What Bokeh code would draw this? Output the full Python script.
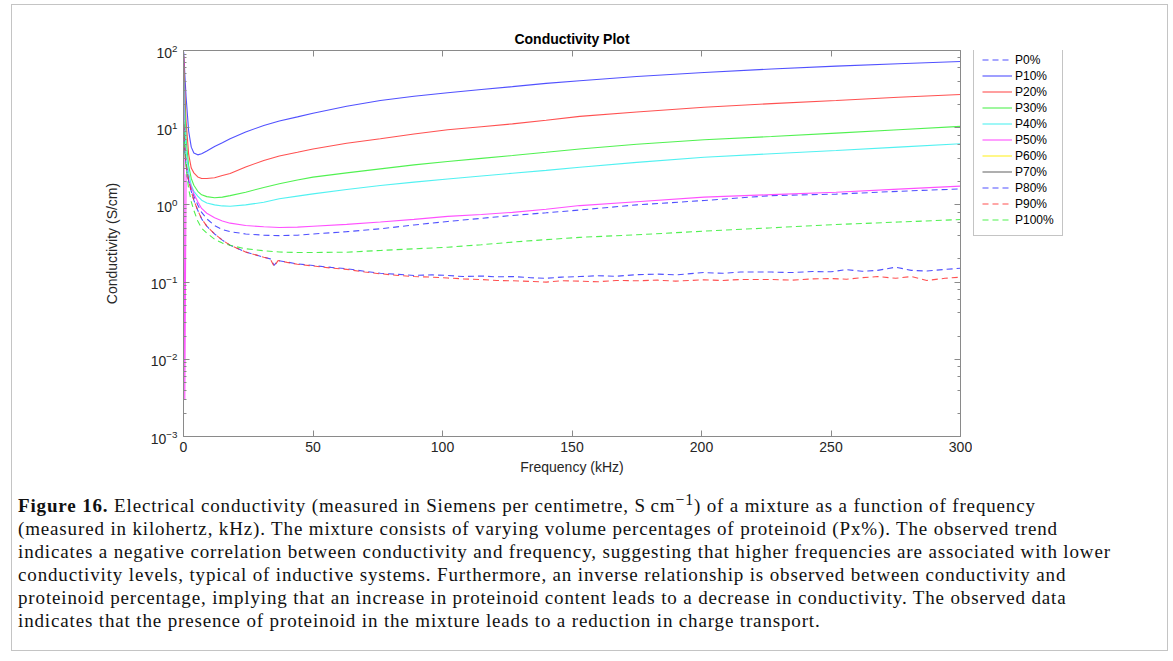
from bokeh.plotting import figure
from bokeh.models import Range1d, LinearAxis, LogAxis, Legend, LegendItem, Div, CustomJSTickFormatter
from bokeh.layouts import column, row
from bokeh.embed import file_html
from bokeh.resources import INLINE

# ---------------- data ----------------
freq = [0.1, 0.5, 1, 2, 3, 4, 5.5, 7, 9, 12, 15, 18, 24, 31, 37, 44, 50, 63, 76, 89,
        102, 115, 127, 140, 153, 175, 201, 227, 252, 276, 300]

p0 = [15, 6, 3.5, 2.1, 1.6, 1.3, 1.0, 0.8, 0.66, 0.54, 0.48, 0.45, 0.42, 0.405, 0.40, 0.405,
      0.42, 0.45, 0.49, 0.55, 0.61, 0.67, 0.73, 0.79, 0.86, 1.0, 1.14, 1.32, 1.38, 1.5, 1.61]
p10 = [95, 50, 25, 9, 5.6, 4.7, 4.45, 4.6, 5.0, 5.7, 6.4, 7.2, 8.8, 10.7, 12.2, 13.8, 15.4,
       19, 22.5, 25.5, 28.3, 31.2, 34, 37.5, 40.5, 46, 52, 57.5, 62.7, 67.5, 72]
p20 = [85, 30, 12, 4.5, 3.0, 2.6, 2.3, 2.2, 2.2, 2.25, 2.4, 2.55, 3.1, 3.76, 4.3, 4.8, 5.3,
       6.3, 7.2, 8.3, 9.4, 10.3, 11.2, 12.5, 14.0, 16, 18.4, 20.5, 22.5, 24.8, 26.9]
p30 = [65, 20, 7, 3.2, 2.2, 1.8, 1.5, 1.35, 1.28, 1.24, 1.26, 1.32, 1.46, 1.68, 1.88, 2.1, 2.29,
       2.6, 2.93, 3.3, 3.65, 4.0, 4.36, 4.8, 5.3, 6.1, 6.97, 7.7, 8.5, 9.4, 10.4]
p40 = [40, 12, 5, 2.6, 1.8, 1.5, 1.3, 1.15, 1.06, 1.0, 0.97, 0.96, 1.0, 1.08, 1.2, 1.3, 1.39,
       1.58, 1.78, 1.97, 2.17, 2.37, 2.57, 2.8, 3.07, 3.55, 4.15, 4.6, 5.07, 5.6, 6.2]
p50 = [70, 0.003, 2.5, 2.1, 1.7, 1.4, 1.1, 0.9, 0.78, 0.68, 0.62, 0.58, 0.54, 0.52, 0.51, 0.515,
       0.53, 0.56, 0.60, 0.65, 0.71, 0.75, 0.80, 0.88, 0.98, 1.1, 1.26, 1.36, 1.46, 1.6, 1.75]
p100 = [12, 5, 3.0, 1.6, 1.1, 0.85, 0.62, 0.5, 0.43, 0.36, 0.32, 0.30, 0.27, 0.255, 0.245, 0.242,
        0.242, 0.244, 0.257, 0.27, 0.283, 0.305, 0.33, 0.355, 0.38, 0.41, 0.457, 0.505, 0.557, 0.60, 0.646]

freq_noisy = [0.1, 0.5, 1, 2, 3, 4, 5.5, 7, 9, 12, 15, 18, 24, 31, 33.5, 35, 36.5, 40, 44, 50,
              57, 63, 70, 76, 83, 89, 96, 102, 108, 115, 121, 127, 134, 140, 146, 153, 160, 167,
              175, 183, 190, 201, 208, 215, 227, 235, 243, 250, 256, 262, 268, 275, 281, 287, 294, 300]
p80 = [10, 5, 3.2, 2.0, 1.5, 1.15, 0.85, 0.66, 0.53, 0.42, 0.35, 0.30, 0.245, 0.21, 0.20, 0.165,
       0.19, 0.182, 0.172, 0.164, 0.155, 0.149, 0.138, 0.130, 0.126, 0.122, 0.124, 0.122, 0.118,
       0.12, 0.117, 0.118, 0.114, 0.112, 0.116, 0.118, 0.121, 0.119, 0.125, 0.127, 0.124, 0.133,
       0.13, 0.135, 0.135, 0.133, 0.137, 0.136, 0.145, 0.138, 0.142, 0.156, 0.142, 0.139, 0.146, 0.151]
p90 = [11, 5.5, 3.4, 2.05, 1.5, 1.15, 0.85, 0.66, 0.53, 0.42, 0.35, 0.30, 0.245, 0.21, 0.20, 0.16,
       0.19, 0.18, 0.17, 0.162, 0.152, 0.146, 0.135, 0.128, 0.122, 0.118, 0.116, 0.113, 0.11,
       0.108, 0.105, 0.104, 0.102, 0.100, 0.104, 0.103, 0.101, 0.105, 0.104, 0.106, 0.103, 0.107,
       0.105, 0.108, 0.108, 0.106, 0.110, 0.111, 0.109, 0.114, 0.118, 0.112, 0.118, 0.105, 0.112, 0.116]

labels = ["P0%", "P10%", "P20%", "P30%", "P40%", "P50%", "P60%", "P70%", "P80%", "P90%", "P100%"]

caption_lines = [
    "<b>Figure 16.</b> Electrical conductivity (measured in Siemens per centimetre, S\u2009cm<sup>\u22121</sup>) of a mixture as a function of frequency",
    "(measured in kilohertz, kHz). The mixture consists of varying volume percentages of proteinoid (Px%). The observed trend",
    "indicates a negative correlation between conductivity and frequency, suggesting that higher frequencies are associated with lower",
    "conductivity levels, typical of inductive systems. Furthermore, an inverse relationship is observed between conductivity and",
    "proteinoid percentage, implying that an increase in proteinoid content leads to a decrease in conductivity. The observed data",
    "indicates that the presence of proteinoid in the mixture leads to a reduction in charge transport.",
]

# ---------------- main figure ----------------
FONT = "Liberation Sans"
AX = "#8a8a8a"
TXT = "#262626"

p = figure(frame_width=777, frame_height=386, x_range=Range1d(0, 300), y_range=Range1d(1e-3, 1e2),
           y_axis_type="log", output_backend="svg", toolbar_location=None,
           min_border_left=171, min_border_top=45, min_border_bottom=50, min_border_right=12,
           title="Conductivity Plot", background_fill_color="white", border_fill_color="white",
           outline_line_color=None)

p.title.align = "center"
p.title.text_font = FONT
p.title.text_font_size = "14px"
p.title.text_font_style = "bold"
p.title.text_color = "black"
p.title.standoff = 8

p.xgrid.visible = False
p.ygrid.visible = False

for ax in (p.xaxis[0], p.yaxis[0]):
    ax.axis_line_color = AX
    ax.major_tick_line_color = AX
    ax.minor_tick_line_color = AX
    ax.major_tick_in = 6
    ax.major_tick_out = 0
    ax.minor_tick_in = 3
    ax.minor_tick_out = 0
    ax.major_label_text_font = FONT
    ax.major_label_text_font_size = "14px"
    ax.major_label_text_color = TXT
    ax.axis_label_text_font = FONT
    ax.axis_label_text_font_size = "14px"
    ax.axis_label_text_font_style = "normal"
    ax.axis_label_text_color = TXT

p.xaxis[0].minor_tick_line_color = None
p.xaxis[0].ticker = [0, 50, 100, 150, 200, 250, 300]
p.xaxis[0].axis_label = "Frequency (kHz)"
p.xaxis[0].major_label_standoff = 5
p.xaxis[0].axis_label_standoff = 4
p.yaxis[0].axis_label = "Conductivity (S/cm)"
p.yaxis[0].major_label_standoff = 6
p.yaxis[0].axis_label_standoff = 28

top = LinearAxis(formatter=CustomJSTickFormatter(code="return ''"), axis_line_color=AX,
                 major_tick_line_color=AX, major_tick_in=6, major_tick_out=0,
                 minor_tick_line_color=None, major_label_standoff=0)
top.ticker = [0, 50, 100, 150, 200, 250, 300]
p.add_layout(top, "above")
right = LogAxis(formatter=CustomJSTickFormatter(code="return ''"), axis_line_color=AX,
                major_tick_line_color=AX, minor_tick_line_color=AX, major_tick_in=6,
                major_tick_out=0, minor_tick_in=3, minor_tick_out=0, major_label_standoff=0)
p.add_layout(right, "right")

DASH = "6 4"
specs = [
    (freq, p0, "#3333ff", DASH),
    (freq, p10, "#3333ff", "solid"),
    (freq, p20, "#ff3333", "solid"),
    (freq, p30, "#33ee33", "solid"),
    (freq, p40, "#33eeee", "solid"),
    (freq, p50, "#ff33ff", "solid"),
    ([], [], "#ffee00", "solid"),
    ([], [], "#555555", "solid"),
    (freq_noisy, p80, "#3333ff", DASH),
    (freq_noisy, p90, "#ff3333", DASH),
    (freq, p100, "#33ee33", DASH),
]

for xs, ys, col, dash in specs:
    if xs:
        p.line(xs, ys, line_color=col, line_width=1.1, line_dash=dash, line_alpha=0.85)

# ---------------- legend (own small figure, to the right of the axes) ----------------
pl = figure(width=180, height=481, x_range=Range1d(0, 1), y_range=Range1d(-10, -9),
            output_backend="svg", toolbar_location=None, x_axis_location=None,
            y_axis_location=None, min_border=0, outline_line_color=None,
            background_fill_color="white", border_fill_color="white")
pl.xgrid.visible = False
pl.ygrid.visible = False

items = []
for (xs, ys, col, dash), lab in zip(specs, labels):
    r = pl.line(xs if xs else [5], ys if ys else [5], line_color=col, line_width=1.1,
                line_dash=dash, line_alpha=0.85)
    items.append(LegendItem(label=lab, renderers=[r]))

legend = Legend(items=items, location=(1, 200))
legend.label_text_font = FONT
legend.label_text_font_size = "12px"
legend.label_text_color = "black"
legend.label_height = 15
legend.glyph_height = 15
legend.glyph_width = 30
legend.label_standoff = 3
legend.spacing = 1
legend.padding = 8
legend.margin = 0
legend.border_line_color = "#8a8a8a"
legend.border_line_width = 1
legend.background_fill_color = "white"
pl.add_layout(legend)

caption_html = ('<div style="padding-left:6px; padding-top:2px;">'
                + "<br>".join(caption_lines) + "</div>")
div = Div(text=caption_html, width=1155, height=164, margin=(0, 0, 0, 0),
          styles={"font-family": "'Liberation Serif', serif", "font-size": "19px",
                  "letter-spacing": "0.85px", "line-height": "23px", "color": "#111",
                  "white-space": "nowrap"})

layout = column(row(p, pl, spacing=0), div, spacing=0, margin=(4, 0, 0, 11),
                styles={"border": "1px solid #c4c4c4"})

open("out.html", "w").write(file_html(layout, INLINE))
